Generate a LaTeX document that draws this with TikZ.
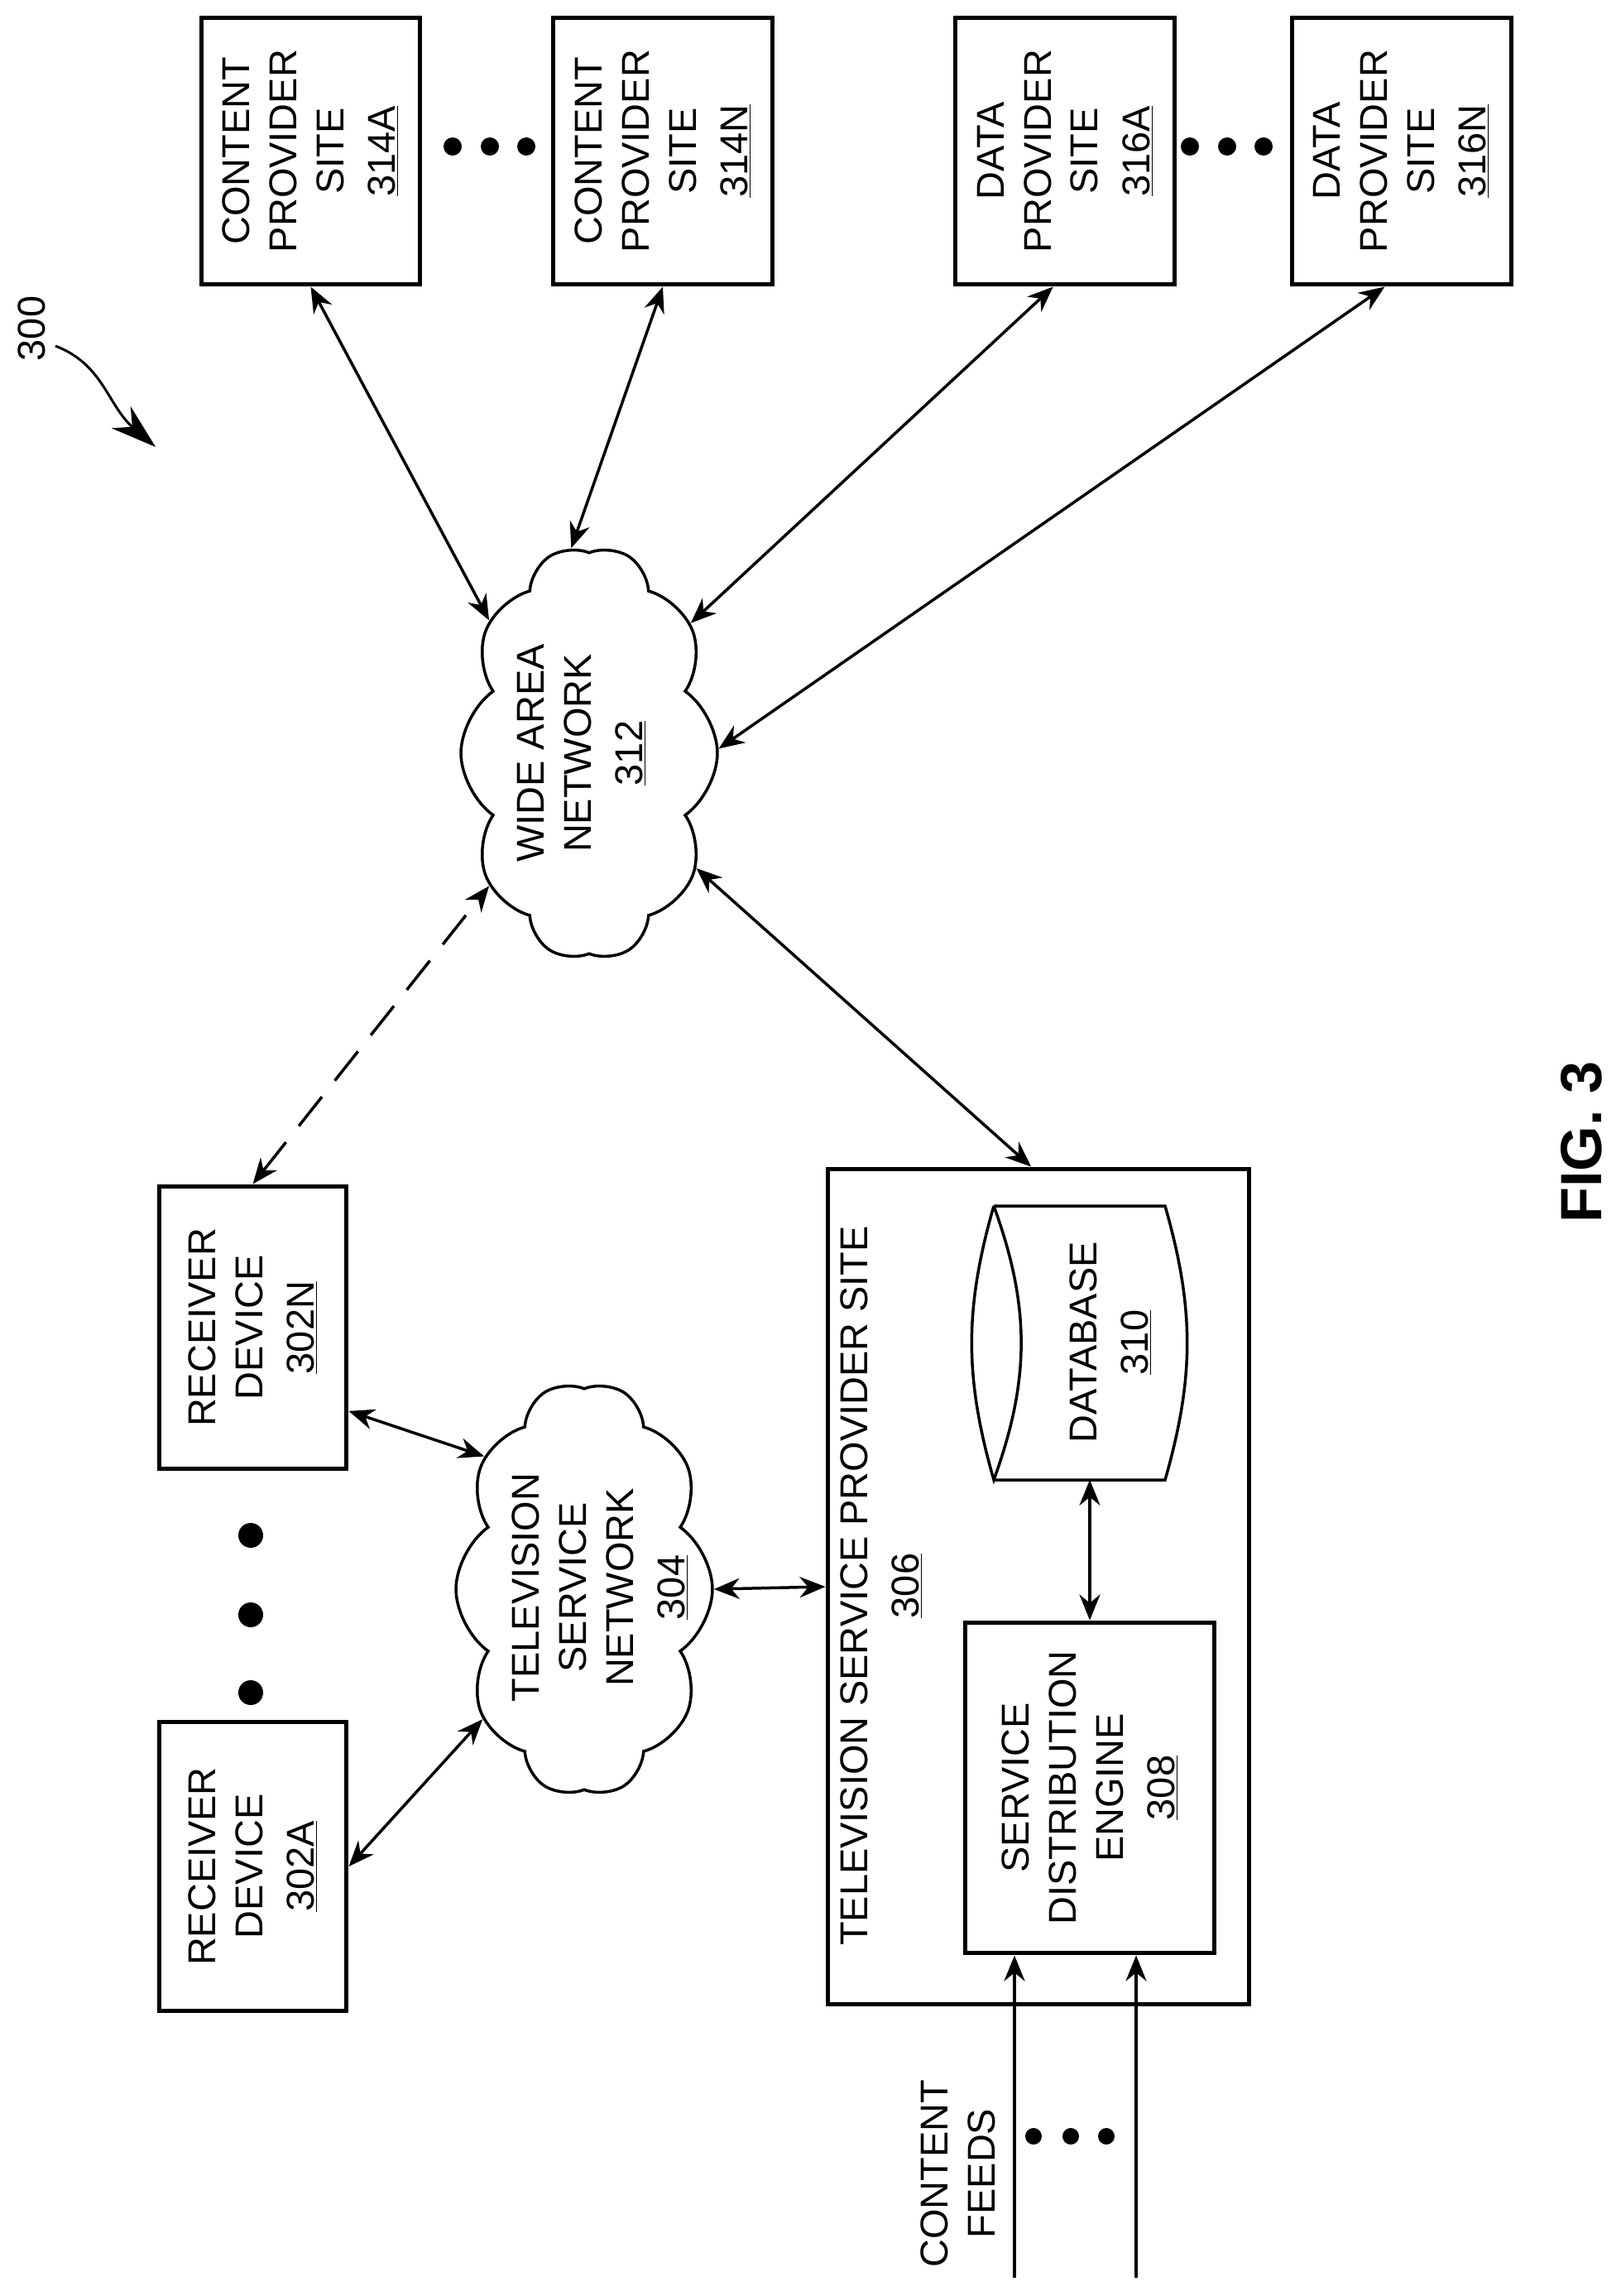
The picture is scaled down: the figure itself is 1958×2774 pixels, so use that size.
\documentclass[tikz,border=0pt]{standalone}
\usepackage{fontspec}
\setmainfont{Liberation Sans}
\usetikzlibrary{arrows.meta,shapes.symbols}
\tikzset{
  lbl/.style={rotate=90, align=center, font=\fontsize{26.7}{32.4}\selectfont},
  siteblock/.style={lbl, draw, line width=0.1cm, minimum width=6.46cm, minimum height=5.3cm},
  recvblock/.style={lbl, draw, line width=0.1cm, minimum width=6.84cm, minimum height=4.54cm},
  netcloud/.style={cloud, draw, rotate=90, line width=0.07cm, cloud puffs=10, cloud puff arc=110, cloud ignores aspect, shape border rotate=18, minimum width=10cm, minimum height=6.2cm, inner sep=0pt},
  dotmark/.style={circle, fill, inner sep=0pt},
  link/.style={line width=0.07cm, {Stealth[length=0.62cm,width=0.5cm]}-{Stealth[length=0.62cm,width=0.5cm]}},
  feed/.style={line width=0.07cm, -{Stealth[length=0.62cm,width=0.5cm]}}
}
\begin{document}
\begin{tikzpicture}[x=0.02cm,y=-0.02cm]
\useasboundingbox (0,0) rectangle (1958,2774);
\node[siteblock] (cp314a) at (375.5,182.5){CONTENT\\PROVIDER\\SITE\\[3pt]\underline{314A}};
\node[siteblock] (cp314n) at (801,182.5){CONTENT\\PROVIDER\\SITE\\[3pt]\underline{314N}};
\node[siteblock] (dp316a) at (1287,182.5){DATA\\PROVIDER\\SITE\\[3pt]\underline{316A}};
\node[siteblock] (dp316n) at (1693.5,182.5){DATA\\PROVIDER\\SITE\\[3pt]\underline{316N}};
\node[dotmark, minimum size=0.44cm] (dc0) at (547,177){};
\node[dotmark, minimum size=0.44cm] (dc1) at (592,177){};
\node[dotmark, minimum size=0.44cm] (dc2) at (636,177){};
\node[dotmark, minimum size=0.44cm] (dd0) at (1438,177){};
\node[dotmark, minimum size=0.44cm] (dd1) at (1483,177){};
\node[dotmark, minimum size=0.44cm] (dd2) at (1527,177){};
\node[lbl] (fig300) at (38,397){300};
\coordinate (ref300) at (67,418);
\coordinate (tip300) at (188,540);
\draw[line width=0.06cm, -{Stealth[length=1.1cm,width=0.7cm]}] (ref300) .. controls (125,440) and (130,490) .. (tip300);
\node[netcloud] (wan312) at (712,910){};
\node[lbl] (wantxt) at (703,910){WIDE AREA\\NETWORK\\[3pt]\underline{312}};
\node[recvblock] (rd302n) at (305.5,1604){RECEIVER\\DEVICE\\[3pt]\underline{302N}};
\node[recvblock, minimum width=6.98cm] (rd302a) at (305.5,2255){RECEIVER\\DEVICE\\[3pt]\underline{302A}};
\node[dotmark, minimum size=0.6cm] (dr0) at (303,1855){};
\node[dotmark, minimum size=0.6cm] (dr1) at (303,1951){};
\node[dotmark, minimum size=0.6cm] (dr2) at (303,2045){};
\node[netcloud] (tsn304) at (706,1920){};
\node[lbl] (tsntxt) at (725,1918){TELEVISION\\SERVICE\\NETWORK\\[3pt]\underline{304}};
\node[draw, rotate=90, line width=0.1cm, minimum width=20.2cm, minimum height=10.2cm] (tsp306) at (1255,1917){};
\node[lbl] (tsptxt) at (1065,1916){TELEVISION SERVICE PROVIDER SITE\\[3pt]\underline{306}};
\node[lbl, draw, line width=0.1cm, minimum width=8cm, minimum height=6.04cm] (sde308) at (1317,2160){SERVICE\\DISTRIBUTION\\ENGINE\\[3pt]\underline{308}};
\node[lbl, minimum width=6.62cm] (db310) at (1342,1622){DATABASE\\[3pt]\underline{310}};
\coordinate (dbtl) at (1201,1457);
\coordinate (dbbl) at (1201,1788);
\coordinate (dbtr) at (1408,1457);
\coordinate (dbbr) at (1408,1788);
\draw[line width=0.07cm] (dbtl) to[bend left=20] (dbbl) to[bend left=16] (dbtl);
\draw[line width=0.07cm] (dbtl) -- (dbtr) to[bend left=16] (dbbr) -- (dbbl);
\draw[link] (cp314a.west) -- (wan312.37);
\draw[link] (cp314n.west) -- (wan312.5);
\draw[link] (dp316a.175) -- (wan312.-38);
\draw[link] (dp316n.173.5) -- (wan312.-88.5);
\draw[link] (wan312.-137) -- (tsp306.1);
\draw[link, dash pattern=on 0.9cm off 0.5cm] (rd302n.east) -- (wan312.143);
\draw[link] (rd302n.-131) -- (tsn304.37);
\draw[link] (rd302a.south) -- (tsn304.142);
\draw[link] (tsn304.-90) -- (tsp306.north);
\draw[link] (sde308.east) -- (db310.west -| sde308.east);
\coordinate (in0) at (1226,2752);
\coordinate (in1) at (1373,2752);
\draw[feed] (in0) -- (in0 |- sde308.west);
\draw[feed] (in1) -- (in1 |- sde308.west);
\node[dotmark, minimum size=0.4cm] (df0) at (1249,2581){};
\node[dotmark, minimum size=0.4cm] (df1) at (1294,2581){};
\node[dotmark, minimum size=0.4cm] (df2) at (1337,2581){};
\node[lbl] (feedtxt) at (1158,2626){CONTENT\\FEEDS};
\node[rotate=90, font=\fontsize{40}{48}\selectfont\bfseries] (figlbl) at (1911,1380){FIG. 3};
\end{tikzpicture}
\end{document}
